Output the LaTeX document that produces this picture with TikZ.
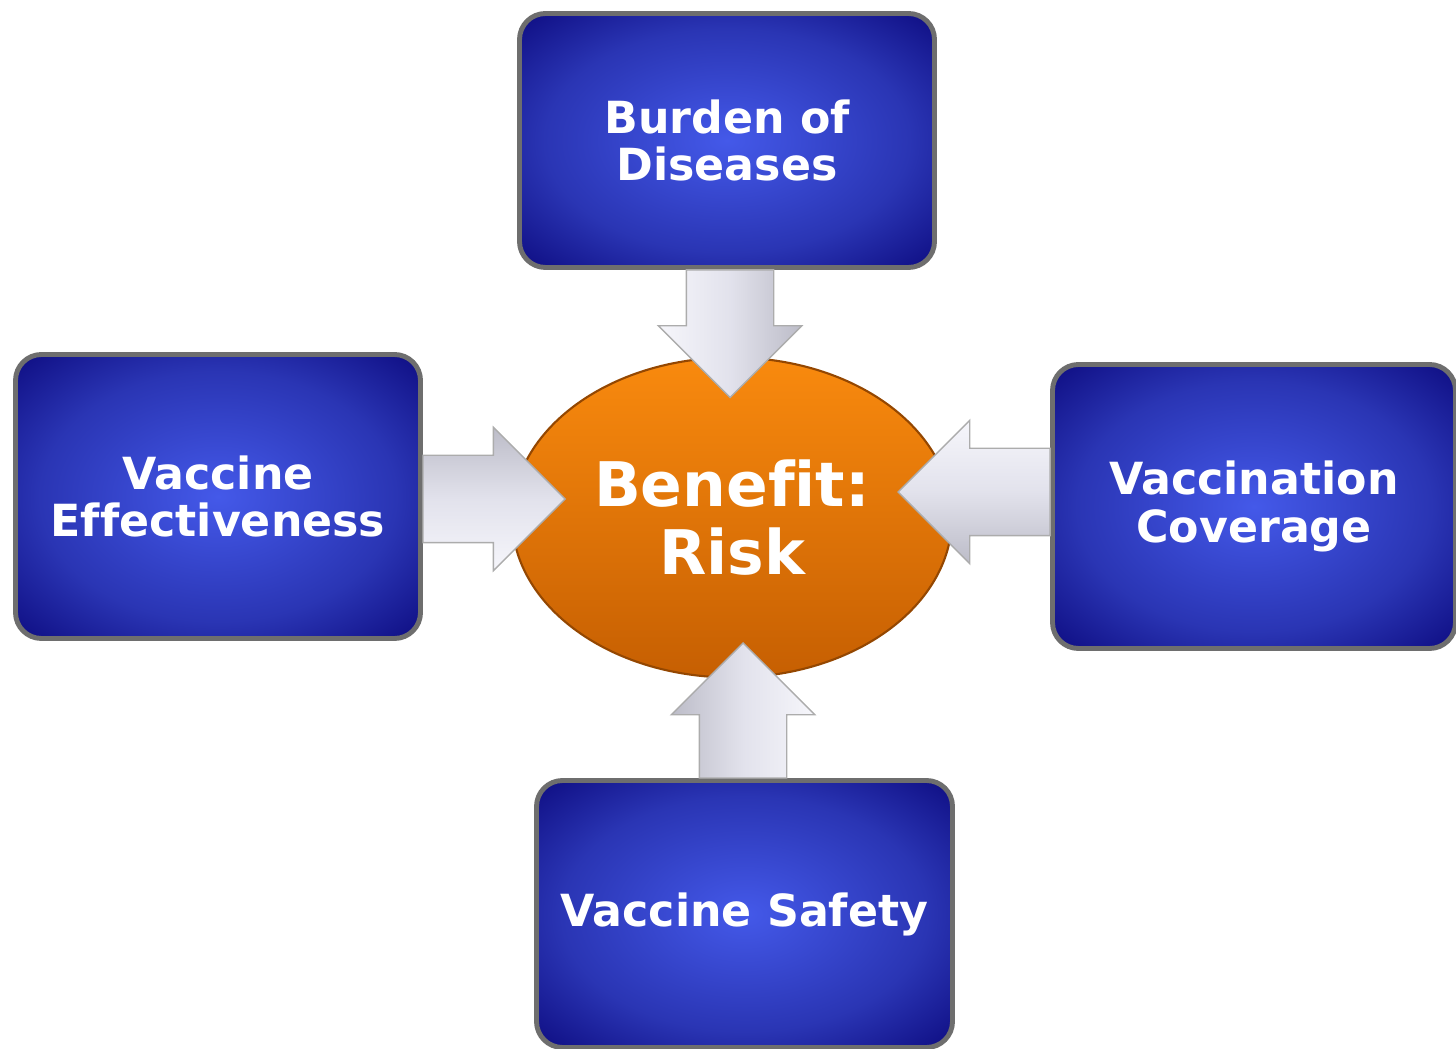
\documentclass[tikz,border=0pt]{standalone}
\usepackage{fontspec}
\setmainfont[Ligatures=NoCommon]{DejaVu Sans}
\usepackage{tikz}
\usetikzlibrary{calc}
\usetikzlibrary{shapes}
\usetikzlibrary{shapes.arrows}

\definecolor{boxin}{HTML}{4459E9}
\definecolor{boxmid}{HTML}{2A35B4}
\definecolor{boxout}{HTML}{111187}
\definecolor{boxrim}{HTML}{6E6E6E}
\definecolor{orangetop}{HTML}{F98A0E}
\definecolor{orangebot}{HTML}{C65F02}
\definecolor{arrowdark}{HTML}{BCBCC8}
\definecolor{arrowmid}{HTML}{E2E2EC}
\definecolor{arrowlight}{HTML}{F6F6FB}

\pgfdeclareradialshading{boxglow}{\pgfpoint{0bp}{0bp}}{color(0bp)=(boxin); color(22bp)=(boxmid); color(34bp)=(boxout); color(50bp)=(boxout)}

\tikzset{factor/.style={draw=boxrim, line width=1.4pt, rounded corners=0.26cm, shade, shading=boxglow, text=white, align=center, font=\bfseries\fontsize{12.6}{13.6}\selectfont, inner sep=0pt}}
\tikzset{hub/.style={ellipse, draw=orangebot!75!black, line width=0.6pt, top color=orangetop, bottom color=orangebot, text=white, align=center, font=\bfseries\fontsize{17.5}{19.4}\selectfont, inner sep=0pt}}
\tikzset{fat arrow/.style={single arrow, draw=gray!65, line width=0.4pt, top color=arrowdark, bottom color=arrowlight, middle color=arrowmid, inner xsep=0pt, inner ysep=0.43cm, single arrow head extend=0.28cm, outer sep=0pt}}

% block arrow from one point to a tip
\newcommand{\fatarrow}[3]{%
  \path let \p1=(#2), \p2=(#3), \n1={atan2(\y2-\y1,\x2-\x1)}, \n2={veclen(\x2-\x1,\y2-\y1)} in
    node (#1) [fat arrow, minimum height={\n2}, rotate=\n1, shading angle=\n1, anchor=tail] at (\p1) {};}

\begin{document}
\begin{tikzpicture}
\useasboundingbox (0,0) rectangle (14.56,10.48);
\clip (0,0) rectangle (14.56,10.48);

% the four factors
\node[factor, minimum width=4.15cm, minimum height=2.54cm] (bur) at (7.27,9.075) {Burden of\\Diseases};
\node[factor, minimum width=4.05cm, minimum height=2.84cm] (eff) at (2.18,5.515) {Vaccine\\Effectiveness};
\node[factor, minimum width=4.03cm, minimum height=2.84cm] (cov) at (12.54,5.415) {Vaccination\\Coverage};
\node[factor, minimum width=4.16cm, minimum height=2.67cm] (saf) at (7.445,1.34) {Vaccine Safety};

% centre
\node[hub, minimum width=4.40cm, minimum height=3.20cm] (risk) at (7.32,5.305) {Benefit:\\Risk};

\coordinate (tipN) at ($(risk.center)+(-0.02,1.2)$);
\coordinate (tipW) at ($(risk.center)+(-1.67,0.185)$);
\coordinate (tipE) at ($(risk.center)+(1.66,0.255)$);
\coordinate (tipS) at ($(risk.center)+(0.11,-1.255)$);

% arrows
\fatarrow{arrN}{bur.south -| tipN}{tipN}
\fatarrow{arrW}{eff.east |- tipW}{tipW}
\fatarrow{arrE}{cov.west |- tipE}{tipE}
\fatarrow{arrS}{saf.north -| tipS}{tipS}

\end{tikzpicture}
\end{document}
